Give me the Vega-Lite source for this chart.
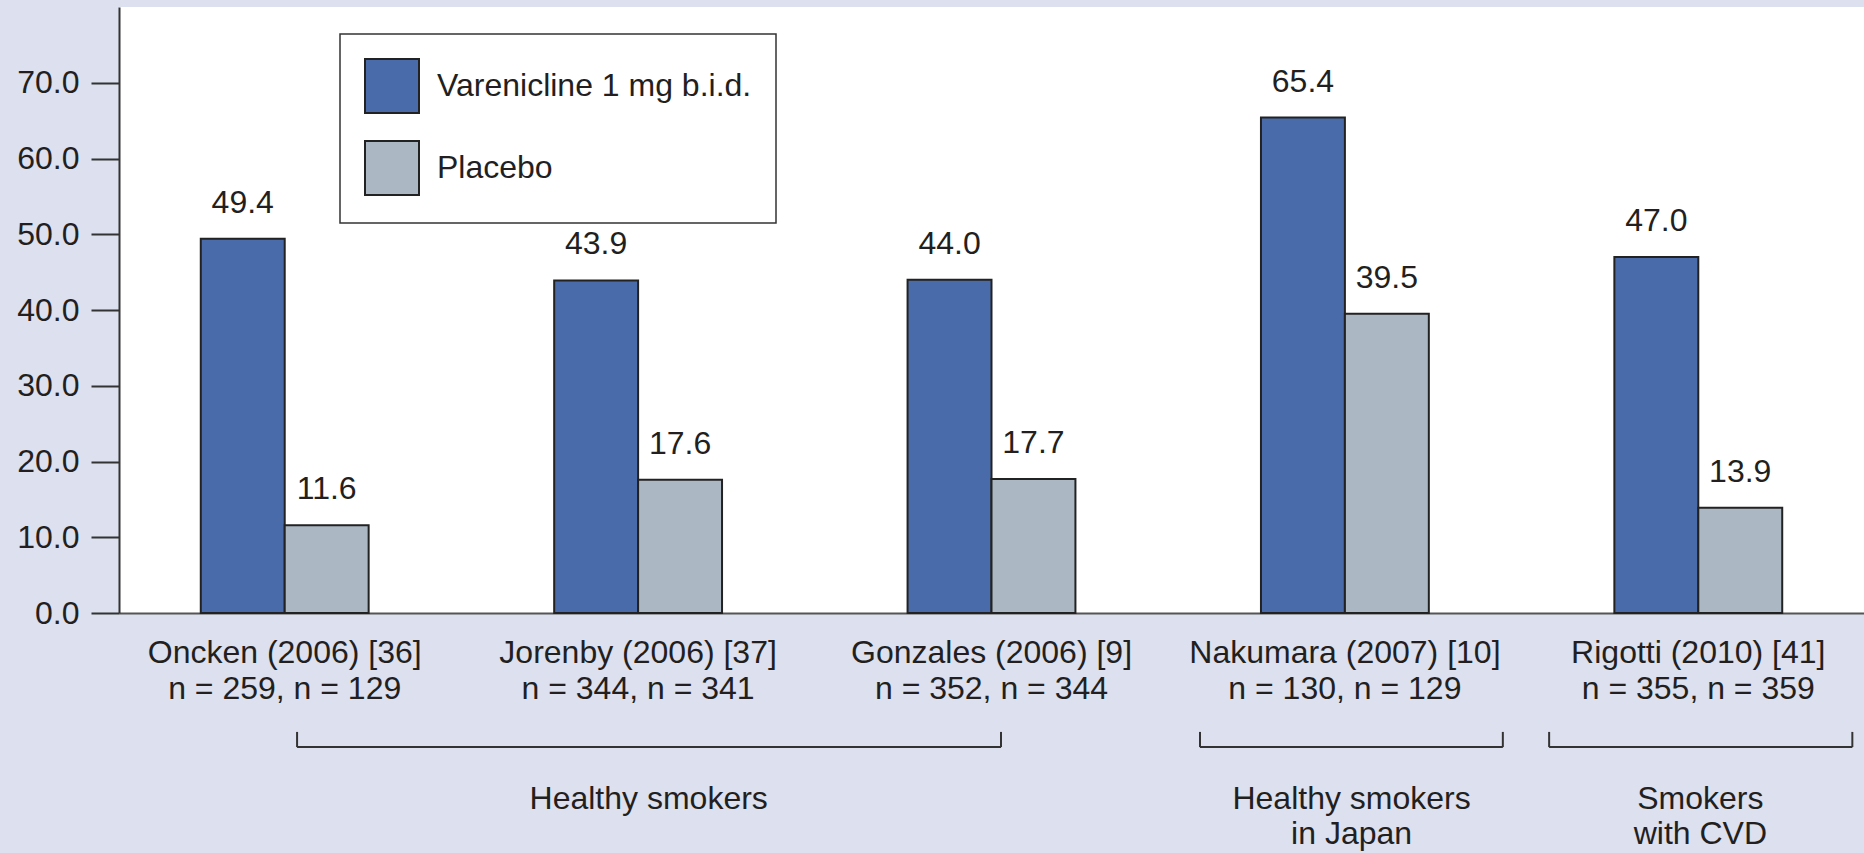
{
  "$schema": "https://vega.github.io/schema/vega-lite/v6.json",
  "autosize": "none",
  "width": 1745,
  "height": 606,
  "padding": {"left": 119, "top": 7, "right": 0, "bottom": 240},
  "background": "#dce0ef",
  "config": {
    "view": {"fill": "white", "stroke": null},
    "font": "Liberation Sans",
    "legend": {"strokeWidth": 1.5},
    "axisX": {
      "labelFontSize": 32, "labelColor": "#231f20", "labelPadding": 24, "labelLineHeight": 36,
      "domainColor": "#555", "domainWidth": 2, "ticks": false, "labelLimit": 0, "labelAngle": 0,
      "labelFont": "Liberation Sans"
    },
    "axisY": {
      "labelFontSize": 32, "labelColor": "#231f20", "labelPadding": 12, "tickSize": 28,
      "tickWidth": 2, "tickColor": "#333", "domainColor": "#333", "domainWidth": 2, "grid": false,
      "labelFont": "Liberation Sans"
    }
  },
  "datasets": {
    "bars": [
      {"study": "Oncken (2006) [36]|n = 259, n = 129", "treatment": "Varenicline 1 mg b.i.d.", "rate": 49.4},
      {"study": "Oncken (2006) [36]|n = 259, n = 129", "treatment": "Placebo", "rate": 11.6},
      {"study": "Jorenby (2006) [37]|n = 344, n = 341", "treatment": "Varenicline 1 mg b.i.d.", "rate": 43.9},
      {"study": "Jorenby (2006) [37]|n = 344, n = 341", "treatment": "Placebo", "rate": 17.6},
      {"study": "Gonzales (2006) [9]|n = 352, n = 344", "treatment": "Varenicline 1 mg b.i.d.", "rate": 44.0},
      {"study": "Gonzales (2006) [9]|n = 352, n = 344", "treatment": "Placebo", "rate": 17.7},
      {"study": "Nakumara (2007) [10]|n = 130, n = 129", "treatment": "Varenicline 1 mg b.i.d.", "rate": 65.4},
      {"study": "Nakumara (2007) [10]|n = 130, n = 129", "treatment": "Placebo", "rate": 39.5},
      {"study": "Rigotti (2010) [41]|n = 355, n = 359", "treatment": "Varenicline 1 mg b.i.d.", "rate": 47.0},
      {"study": "Rigotti (2010) [41]|n = 355, n = 359", "treatment": "Placebo", "rate": 13.9}
    ],
    "groups": [
      {"group": "Healthy smokers", "start": 0.035, "end": 2.027, "mid": 1.03},
      {"group": "Healthy smokers\nin Japan", "start": 2.59, "end": 3.447, "mid": 3.019},
      {"group": "Smokers\nwith CVD", "start": 3.578, "end": 4.436, "mid": 4.006}
    ]
  },
  "layer": [
    {
      "data": {"name": "bars"},
      "encoding": {
        "x": {
          "field": "study", "type": "nominal", "sort": null,
          "scale": {"paddingInner": 0.525, "paddingOuter": 0.2314},
          "axis": {"title": null, "labelExpr": "split(datum.label, '|')"}
        },
        "xOffset": {"field": "treatment", "type": "nominal", "sort": ["Varenicline 1 mg b.i.d.", "Placebo"]},
        "y": {
          "field": "rate", "type": "quantitative",
          "scale": {"domain": [0, 80], "nice": false},
          "axis": {"title": null, "values": [0, 10, 20, 30, 40, 50, 60, 70], "format": ".1f"}
        }
      },
      "layer": [
        {
          "mark": {"type": "bar", "stroke": "#222", "strokeWidth": 2},
          "encoding": {
            "color": {
              "field": "treatment", "type": "nominal",
              "scale": {"domain": ["Varenicline 1 mg b.i.d.", "Placebo"], "range": ["#4a6ba9", "#abb8c3"]},
              "legend": {
                "orient": "none", "legendX": 221, "legendY": 27, "direction": "vertical", "title": null,
                "symbolType": "square", "symbolSize": 2916, "symbolStrokeColor": "#222",
                "symbolStrokeWidth": 2, "symbolOpacity": 1, "labelFontSize": 32, "labelOffset": 17,
                "rowPadding": 20, "padding": 24, "strokeColor": "#333", "fillColor": "white",
                "labelLimit": 0, "labelColor": "#231f20", "labelFont": "Liberation Sans"
              }
            }
          }
        },
        {
          "mark": {"type": "text", "fontSize": 32, "baseline": "alphabetic", "dy": -26, "color": "#231f20", "font": "Liberation Sans"},
          "encoding": {"text": {"field": "rate", "type": "quantitative", "format": ".1f"}}
        }
      ]
    },
    {
      "data": {"name": "groups"},
      "layer": [
        {
          "mark": {"type": "rule", "stroke": "#333", "strokeWidth": 2},
          "encoding": {
            "x": {"field": "start", "type": "quantitative", "scale": {"domain": [-0.4689, 4.469], "nice": false, "zero": false}, "axis": null},
            "x2": {"field": "end"},
            "y": {"datum": -17.7, "type": "quantitative", "scale": {"domain": [0, 80], "nice": false}, "axis": null}
          }
        },
        {
          "mark": {"type": "rule", "stroke": "#333", "strokeWidth": 2},
          "encoding": {
            "x": {"field": "start", "type": "quantitative", "scale": {"domain": [-0.4689, 4.469], "nice": false, "zero": false}, "axis": null},
            "y": {"datum": -15.7, "type": "quantitative", "scale": {"domain": [0, 80], "nice": false}, "axis": null},
            "y2": {"datum": -17.7}
          }
        },
        {
          "mark": {"type": "rule", "stroke": "#333", "strokeWidth": 2},
          "encoding": {
            "x": {"field": "end", "type": "quantitative", "scale": {"domain": [-0.4689, 4.469], "nice": false, "zero": false}, "axis": null},
            "y": {"datum": -15.7, "type": "quantitative", "scale": {"domain": [0, 80], "nice": false}, "axis": null},
            "y2": {"datum": -17.7}
          }
        },
        {
          "mark": {"type": "text", "fontSize": 32, "baseline": "alphabetic", "lineBreak": "\n", "lineHeight": 35, "color": "#231f20", "font": "Liberation Sans"},
          "encoding": {
            "x": {"field": "mid", "type": "quantitative", "scale": {"domain": [-0.4689, 4.469], "nice": false, "zero": false}, "axis": null},
            "y": {"datum": -25.9, "type": "quantitative", "scale": {"domain": [0, 80], "nice": false}, "axis": null},
            "text": {"field": "group"}
          }
        }
      ]
    }
  ],
  "resolve": {"scale": {"x": "independent", "y": "independent"}}
}
